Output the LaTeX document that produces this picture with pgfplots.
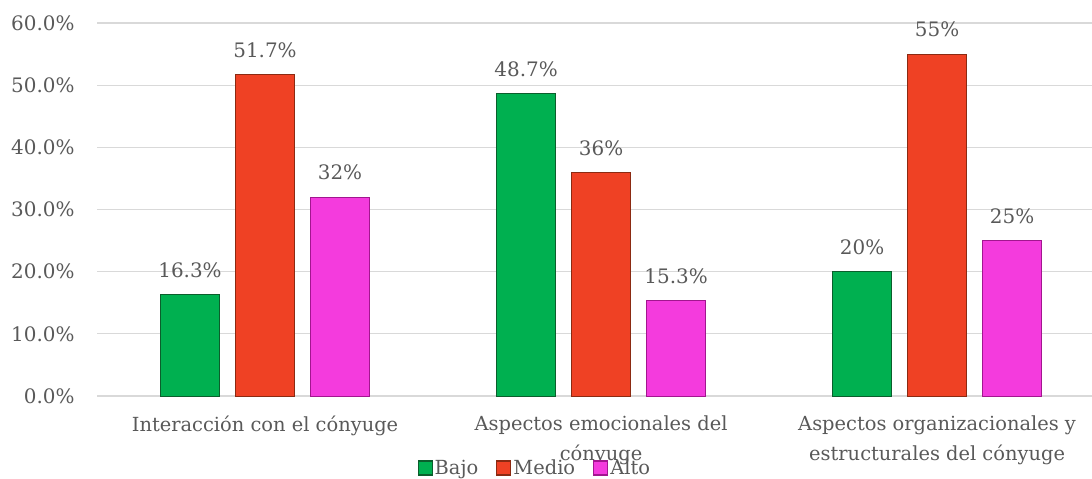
\documentclass[border=0pt]{standalone}
\usepackage{pgfplots}
\pgfplotsset{compat=1.18}
\usepackage{fontspec}
\setmainfont{DejaVu Serif}
\definecolor{txt}{HTML}{595959}
\definecolor{gridc}{HTML}{D9D9D9}
\definecolor{cbajo}{HTML}{00B050}
\definecolor{cbajoD}{HTML}{0B5E2C}
\definecolor{cmedio}{HTML}{EF4124}
\definecolor{cmedioD}{HTML}{8B2A12}
\definecolor{calto}{HTML}{F43BDD}
\definecolor{caltoD}{HTML}{A2168F}
\begin{document}
\begin{tikzpicture}
\useasboundingbox (0,0) rectangle (1092bp,479bp);
\begin{axis}[
  at={(97bp,83bp)}, anchor=south west,
  scale only axis, width=995bp, height=373bp,
  xmin=-0.5, xmax=2.461, ymin=0, ymax=60,
  ytick={0,10,...,60},
  yticklabel={\pgfmathprintnumber[fixed,fixed zerofill,precision=1]{\tick}\%},
  xtick={0,1,2},
  xticklabels={{Interacción con el cónyuge},{Aspectos emocionales del\\cónyuge},{Aspectos organizacionales y\\estructurales del cónyuge}},
  xticklabel style={align=center, font=\fontsize{19.5}{30}\selectfont, text=txt, yshift=-16bp},
  yticklabel style={font=\fontsize{20}{24}\selectfont, text=txt, xshift=-19bp},
  /pgf/number format/assume math mode=true,
  major tick length=0pt,
  axis line style={draw=none},
  ymajorgrids, grid style={draw=gridc, line width=1.1pt},
  clip=false,
  ybar, bar width=59bp,
  nodes near coords={\pgfplotspointmeta\%},
  point meta=explicit symbolic,
  every node near coord/.append style={font=\fontsize{20}{24}\selectfont, text=txt, yshift=13bp},
  legend style={at={(0.44,-0.193)}, anchor=center, draw=none, fill=none,
    legend columns=3, font=\fontsize{19.5}{24}\selectfont, text=txt,
    /tikz/every even column/.append style={column sep=16bp},
    inner sep=0pt},
  legend image code/.code={\draw[#1, line width=1.2pt] (0bp,-7bp) rectangle (14bp,7bp);},
  legend cell align=left,
]
\addplot[fill=cbajo, draw=cbajoD, line width=1pt, bar shift=-75bp]
  coordinates {(0,16.3) [16.3] (1,48.7) [48.7] (2,20) [20]};
\addplot[fill=cmedio, draw=cmedioD, line width=1pt, bar shift=0bp]
  coordinates {(0,51.7) [51.7] (1,36) [36] (2,55) [55]};
\addplot[fill=calto, draw=caltoD, line width=1pt, bar shift=75bp]
  coordinates {(0,32) [32] (1,15.3) [15.3] (2,25) [25]};
\legend{Bajo,Medio,Alto}
\end{axis}
\end{tikzpicture}
\end{document}
